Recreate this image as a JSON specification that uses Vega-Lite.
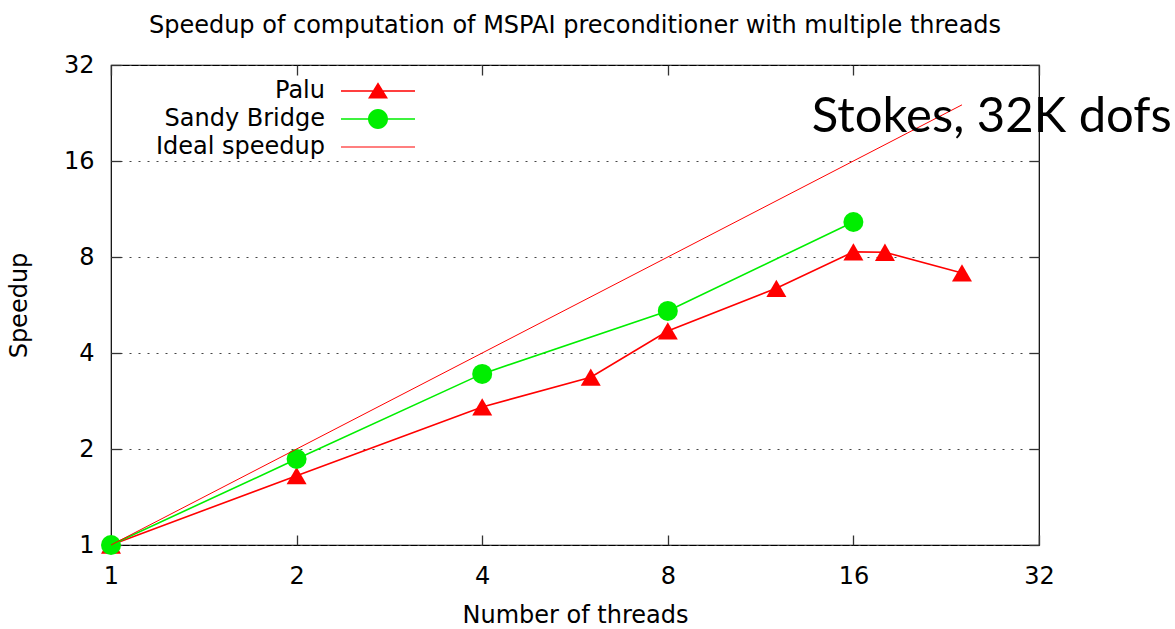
{
  "$schema": "https://vega.github.io/schema/vega-lite/v6.json",
  "width": 928,
  "height": 480,
  "autosize": "none",
  "padding": {"left": 111, "top": 65, "right": 136, "bottom": 84},
  "background": "white",
  "config": {
    "font": "DejaVu Sans",
    "view": {"stroke": "black", "strokeWidth": 1.2},
    "axis": {"labelFont": "DejaVu Sans", "titleFont": "DejaVu Sans", "labelColor": "black", "titleColor": "black", "titleFontWeight": "normal", "ticks": true, "tickColor": "#333333", "tickWidth": 1.3, "tickOpacity": 1}
  },
  "title": {"text": "Speedup of computation of MSPAI preconditioner with multiple threads", "fontSize": 24, "fontWeight": "normal", "font": "DejaVu Sans", "anchor": "middle", "frame": "group", "offset": 15, "color": "black"},
  "data": {"values": [
    {"series": "Palu", "threads": 1, "speedup": 1},
    {"series": "Palu", "threads": 2, "speedup": 1.65},
    {"series": "Palu", "threads": 4, "speedup": 2.71},
    {"series": "Palu", "threads": 6, "speedup": 3.36},
    {"series": "Palu", "threads": 8, "speedup": 4.69},
    {"series": "Palu", "threads": 12, "speedup": 6.38},
    {"series": "Palu", "threads": 16, "speedup": 8.3},
    {"series": "Palu", "threads": 18, "speedup": 8.28},
    {"series": "Palu", "threads": 24, "speedup": 7.13},
    {"series": "Sandy Bridge", "threads": 1, "speedup": 1},
    {"series": "Sandy Bridge", "threads": 2, "speedup": 1.86},
    {"series": "Sandy Bridge", "threads": 4, "speedup": 3.44},
    {"series": "Sandy Bridge", "threads": 8, "speedup": 5.42},
    {"series": "Sandy Bridge", "threads": 16, "speedup": 10.3},
    {"series": "Ideal speedup", "threads": 1, "speedup": 1},
    {"series": "Ideal speedup", "threads": 24, "speedup": 24}
  ]},
  "resolve": {"axis": {"x": "independent", "y": "independent"}},
  "layer": [
    {
      "mark": {"type": "line", "color": "#ff0000", "strokeWidth": 1.6},
      "transform": [{"filter": "datum.series === 'Palu'"}],
      "encoding": {
        "x": {"field": "threads", "type": "quantitative", "scale": {"type": "log", "base": 2, "domain": [1, 32], "nice": false},
          "axis": {"orient": "bottom", "values": [1, 2, 4, 8, 16, 32], "format": "d", "labelFontSize": 24, "labelFlush": false, "labelOverlap": false, "domain": false, "offset": -10, "ticks": true, "tickSize": 10, "tickColor": "#333333", "tickWidth": 1.3, "labelPadding": 19, "grid": false, "title": "Number of threads", "titleFontSize": 24, "titlePadding": 15}},
        "y": {"field": "speedup", "type": "quantitative", "scale": {"type": "log", "base": 2, "domain": [1, 32], "nice": false},
          "axis": {"orient": "left", "values": [1, 2, 4, 8, 16, 32], "format": "d", "labelFontSize": 24, "labelFlush": false, "labelOverlap": false, "domain": false, "offset": -10, "ticks": true, "tickSize": 10, "tickColor": "#333333", "tickWidth": 1.3, "labelPadding": 17, "grid": true, "gridColor": "#444444", "gridDash": [2, 7], "gridWidth": 1, "title": "Speedup", "titleFontSize": 24, "titlePadding": 32}}
      }
    },
    {
      "mark": {"type": "point", "shape": "triangle-up", "filled": true, "color": "#ff0000", "size": 400, "opacity": 1},
      "transform": [{"filter": "datum.series === 'Palu'"}],
      "encoding": {
        "x": {"field": "threads", "type": "quantitative", "axis": null},
        "y": {"field": "speedup", "type": "quantitative", "axis": null}
      }
    },
    {
      "mark": {"type": "line", "color": "#00ee00", "strokeWidth": 1.6},
      "transform": [{"filter": "datum.series === 'Sandy Bridge'"}],
      "encoding": {
        "x": {"field": "threads", "type": "quantitative", "axis": null},
        "y": {"field": "speedup", "type": "quantitative", "axis": null}
      }
    },
    {
      "mark": {"type": "point", "shape": "circle", "filled": true, "color": "#00ee00", "size": 400, "opacity": 1},
      "transform": [{"filter": "datum.series === 'Sandy Bridge'"}],
      "encoding": {
        "x": {"field": "threads", "type": "quantitative", "axis": null},
        "y": {"field": "speedup", "type": "quantitative", "axis": null}
      }
    },
    {
      "mark": {"type": "line", "color": "#ff0000", "strokeWidth": 1},
      "transform": [{"filter": "datum.series === 'Ideal speedup'"}],
      "encoding": {
        "x": {"field": "threads", "type": "quantitative", "axis": null},
        "y": {"field": "speedup", "type": "quantitative", "axis": null}
      }
    },
    {
      "mark": {"type": "point", "filled": true, "opacity": 1, "strokeWidth": 0},
      "transform": [{"filter": "datum.threads > 1000"}],
      "encoding": {
        "x": {"field": "threads", "type": "quantitative",
          "axis": {"orient": "top", "values": [1, 2, 4, 8, 16, 32], "labels": false, "domain": false, "offset": -10, "ticks": true, "tickSize": 10, "tickColor": "#333333", "tickWidth": 1.3, "grid": false, "title": null}},
        "y": {"field": "speedup", "type": "quantitative",
          "axis": {"orient": "right", "values": [1, 2, 4, 8, 16, 32], "labels": false, "domain": false, "offset": -10, "ticks": true, "tickSize": 10, "tickColor": "#333333", "tickWidth": 1.3, "grid": false, "title": null}},
        "color": {"field": "series", "type": "nominal",
          "scale": {"domain": ["Palu", "Sandy Bridge", "Ideal speedup"], "range": ["#ff0000", "#00ee00", "#ff0000"]},
          "legend": {"title": null, "orient": "none", "legendX": 230, "legendY": 12, "direction": "vertical", "symbolSize": 784, "rowPadding": 2, "labelAlign": "right", "labelOffset": -44, "labelFontSize": 24, "labelFont": "DejaVu Sans", "labelColor": "black", "symbolStrokeWidth": 0, "symbolOpacity": 1, "padding": 0, "labelLimit": 400}},
        "shape": {"field": "series", "type": "nominal",
          "scale": {"domain": ["Palu", "Sandy Bridge", "Ideal speedup"], "range": [
            "M-1,-0.054H4.286V0.054H-1Z M1.643,-0.62L2.357,0.53L0.929,0.53Z",
            "M-1,-0.054H4.286V0.054H-1Z M0.929,0A0.714,0.714,0,1,1,2.357,0A0.714,0.714,0,1,1,0.929,0Z",
            "M-1,-0.036H4.286V0.036H-1Z"
          ]},
          "legend": {"title": null, "orient": "none", "legendX": 230, "legendY": 12, "direction": "vertical", "symbolSize": 784, "rowPadding": 2, "labelAlign": "right", "labelOffset": -44, "labelFontSize": 24, "labelFont": "DejaVu Sans", "labelColor": "black", "symbolStrokeWidth": 0, "symbolOpacity": 1, "padding": 0, "labelLimit": 400}}
      }
    },
    {
      "data": {"values": [{"label": "Stokes, 32K dofs", "threads": 13.7, "speedup": 19.7}]},
      "mark": {"type": "text", "font": "Lato", "fontSize": 49, "align": "left", "baseline": "alphabetic", "color": "black"},
      "encoding": {
        "x": {"field": "threads", "type": "quantitative", "axis": null},
        "y": {"field": "speedup", "type": "quantitative", "axis": null},
        "text": {"field": "label"}
      }
    }
  ]
}
